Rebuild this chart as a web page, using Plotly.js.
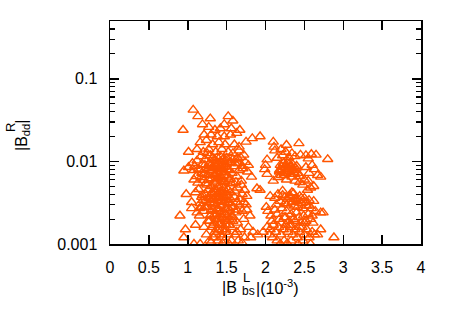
<!DOCTYPE html>
<html>
<head>
<meta charset="utf-8">
<script src="https://cdn.plot.ly/plotly-3.0.1.min.js"></script>
<style>html,body{margin:0;padding:0;background:#fff}#chart{width:450px;height:315px}</style>
</head>
<body>
<div id="chart"></div>
<script>
// |B^L_bs| in units of 1e-3
const bbsL = [
 1.07,1.13,1.29,1.52,1.58,0.94,1.19,1.27,1.35,1.42,1.47,1.56,1.67,1.63,1.21,1.30,1.38,1.47,1.55,1.75,1.83,1.93,
 1.16,1.24,1.32,1.40,1.48,1.60,1.66,1.01,1.12,1.20,1.27,1.36,1.44,1.52,1.58,1.66,1.72,
 0.95,1.01,1.08,1.14,1.18,1.22,1.25,1.28,1.30,1.33,1.35,1.37,1.39,1.41,1.43,1.45,1.47,1.49,1.51,1.53,1.55,1.57,1.60,1.63,1.66,1.70,1.78,1.82,1.69,1.32,1.42,1.50,1.27,1.36,1.44,1.48,1.56,1.62,1.23,1.30,1.39,1.46,1.52,1.35,1.26,1.21,1.11,1.40,1.46,1.34,1.26,
 0.98,1.05,0.90,0.97,0.95,1.10,1.15,1.20,1.23,1.25,1.27,1.29,1.31,1.32,1.34,1.36,1.37,1.38,1.40,1.41,1.42,1.44,1.45,1.46,1.47,1.48,1.49,1.50,1.51,1.52,1.53,1.54,1.55,1.57,1.58,1.60,1.62,1.64,1.66,1.68,1.70,1.72,1.76,1.78,1.81,1.84,
 1.21,1.24,1.28,1.33,1.35,1.39,1.43,1.47,1.52,1.56,1.61,1.65,1.73,1.08,1.16,1.30,1.45,1.53,1.70,1.26,1.31,1.37,1.41,1.49,1.56,1.63,1.30,1.35,1.39,1.43,1.51,1.58,1.63,1.12,1.18,1.28,1.33,1.45,1.55,1.60,1.70,1.38,1.42,
 1.29,1.31,1.34,1.36,1.38,1.40,1.42,1.44,1.46,1.48,1.50,1.53,1.31,1.35,1.39,1.43,1.47,1.51,1.55,1.33,1.37,1.41,1.45,1.49,1.30,1.34,1.38,1.42,1.46,1.50,1.54,1.32,1.36,1.40,1.44,1.48,1.52,1.28,1.33,1.37,1.41,1.45,1.49,1.53,1.57,1.36,1.40,1.44,1.48,1.34,1.38,1.42,1.46,1.50,1.25,1.29,1.58,1.61,1.64,1.22,1.18,1.15,
 1.06,1.09,1.12,1.15,1.17,1.19,1.22,1.24,1.08,1.13,1.17,1.21,1.25,1.10,1.14,1.19,1.23,1.05,1.16,1.20,
 1.62,1.65,1.68,1.71,1.74,1.77,1.64,1.69,1.73,1.67,1.72,1.76,1.80,1.63,1.75,
 2.10,2.11,2.27,2.43,2.12,2.20,2.26,2.34,2.45,2.52,2.59,2.65,2.80,2.02,2.15,2.22,2.30,2.38,2.55,
 2.00,1.99,2.02,2.10,1.93,1.89,2.19,2.22,2.25,2.28,2.30,2.32,2.35,2.37,2.40,2.42,2.24,2.18,2.34,2.44,2.52,2.60,2.63,2.56,2.67,2.71,2.50,2.55,2.48,2.58,2.54,2.62,2.27,2.38,2.16,2.44,
 2.06,2.12,2.16,2.19,2.22,2.25,2.28,2.31,2.34,2.36,2.39,2.41,2.44,2.47,2.50,2.53,2.56,2.59,2.62,2.64,2.71,2.74,2.01,2.03,2.07,2.12,2.15,2.18,2.21,2.24,2.27,2.30,2.33,2.36,2.40,2.43,2.46,2.49,2.52,2.55,2.58,2.61,
 2.02,2.06,2.10,2.13,2.17,2.20,2.23,2.26,2.29,2.32,2.35,2.38,2.41,2.44,2.47,2.50,2.53,2.56,2.60,2.63,2.67,2.71,2.88,2.09,2.15,2.24,2.33,2.42,2.48,2.58,2.19,2.28,1.97,1.90,
 2.18,2.21,2.24,2.27,2.30,2.33,2.36,2.39,2.20,2.26,2.32,2.38,2.23,2.29,2.35,2.22,2.28,2.34,2.40,2.46,2.25,2.31,2.37,2.43,2.20,2.26,2.32,2.38,2.44,2.50,2.14,2.48,2.52,2.56,2.60,2.08,2.05
];
// |B^R_dd|
const bddR = [
 0.042,0.035,0.033,0.035,0.031,0.024,0.028,0.026,0.024,0.025,0.028,0.025,0.024,0.022,0.021,0.021,0.020,0.020,0.021,0.0172,0.019,0.020,
 0.017,0.018,0.016,0.017,0.016,0.016,0.015,0.013,0.014,0.013,0.014,0.013,0.014,0.013,0.0125,0.0135,0.012,
 0.0077,0.0085,0.0078,0.0081,0.0072,0.0090,0.0068,0.0095,0.0078,0.0085,0.0070,0.0100,0.0062,0.0088,0.0075,0.0105,0.0068,0.0092,0.0080,0.0060,0.0098,0.0072,0.0087,0.0066,0.0078,0.0088,0.0090,0.0065,0.0058,0.0110,0.0115,0.0110,0.0060,0.0055,0.0052,0.0057,0.0054,0.0056,0.0054,0.0050,0.0049,0.0047,0.0045,0.0046,0.0045,0.0070,0.0066,0.0082,0.0085,0.0092,0.0082,
 0.0040,0.0032,0.0022,0.0015,0.0012,0.0017,0.0022,0.0034,0.0040,0.0028,0.0036,0.0022,0.0042,0.0030,0.0018,0.0038,0.0026,0.0034,0.0020,0.0042,0.0029,0.0015,0.0036,0.0024,0.0032,0.0019,0.0027,0.0039,0.0022,0.0031,0.0017,0.0026,0.0035,0.0021,0.0028,0.0037,0.0024,0.0018,0.0030,0.0015,0.0025,0.0020,0.0026,0.0016,0.0012,0.0014,
 0.0016,0.0013,0.0011,0.0012,0.0014,0.0011,0.0013,0.0011,0.0013,0.0011,0.0013,0.0011,0.0012,0.0010,0.0010,0.00105,0.00102,0.00100,0.00103,0.0019,0.0016,0.0015,0.0017,0.0015,0.0016,0.0014,0.0025,0.0023,0.0027,0.0024,0.0019,0.0019,0.0032,0.0024,0.0028,0.0032,0.0035,0.0044,0.0042,0.0044,0.0040,0.0040,0.0037,
 0.0088,0.0075,0.0068,0.0090,0.0072,0.0095,0.0066,0.0080,0.0092,0.0074,0.0086,0.0078,0.0062,0.0058,0.0064,0.0060,0.0056,0.0065,0.0061,0.0040,0.0044,0.0038,0.0041,0.0043,0.0034,0.0031,0.0036,0.0033,0.0030,0.0034,0.0032,0.0026,0.0022,0.0025,0.0021,0.0023,0.0027,0.0019,0.0017,0.0020,0.0018,0.0021,0.0017,0.0020,0.0022,0.0013,0.0015,0.0012,0.0014,0.0105,0.0112,0.0100,0.0108,0.0102,0.0125,0.0118,0.0105,0.0095,0.0110,0.0028,0.0037,0.0027,
 0.0095,0.0088,0.0102,0.0078,0.0115,0.0092,0.0105,0.0084,0.0060,0.0055,0.0064,0.0059,0.0052,0.0042,0.0046,0.0039,0.0034,0.0027,0.0031,0.0025,
 0.0105,0.0095,0.0112,0.0082,0.0098,0.0075,0.0048,0.0052,0.0045,0.0035,0.0032,0.0038,0.0022,0.0026,0.0030,
 0.0172,0.0150,0.0158,0.0165,0.0135,0.0140,0.0130,0.0125,0.0120,0.0118,0.0122,0.0120,0.0106,0.0105,0.0110,0.0118,0.0112,0.0115,0.0108,
 0.0090,0.0080,0.0070,0.0058,0.0045,0.0047,0.0090,0.0080,0.0085,0.0075,0.0092,0.0070,0.0082,0.0078,0.0088,0.0072,0.0068,0.0075,0.0065,0.0066,0.0085,0.0090,0.0080,0.0072,0.0068,0.0065,0.0060,0.0058,0.0052,0.0048,0.0045,0.0050,0.0060,0.0058,0.0064,0.0056,
 0.0038,0.0036,0.0040,0.0033,0.0044,0.0037,0.0030,0.0039,0.0032,0.0041,0.0035,0.0028,0.0038,0.0031,0.0036,0.0029,0.0034,0.0027,0.0033,0.0025,0.0024,0.0024,0.0028,0.0025,0.0022,0.0026,0.0023,0.0020,0.0027,0.0021,0.0025,0.0019,0.0023,0.0020,0.0024,0.0021,0.0018,0.0022,0.0019,0.0023,0.0020,0.0018,
 0.0016,0.0015,0.0017,0.0014,0.0016,0.0013,0.0015,0.0017,0.0014,0.0016,0.0013,0.0015,0.0012,0.0014,0.0016,0.0013,0.0015,0.0012,0.0014,0.0013,0.0013,0.0015,0.0012,0.0012,0.0011,0.0011,0.0011,0.0010,0.0011,0.0010,0.00101,0.00102,0.0014,0.0013,
 0.0078,0.0086,0.0072,0.0090,0.0080,0.0085,0.0074,0.0082,0.0068,0.0076,0.0088,0.0070,0.0095,0.0100,0.0092,0.0039,0.0035,0.0042,0.0033,0.0036,0.0031,0.0037,0.0029,0.0034,0.0018,0.0021,0.0017,0.0019,0.0016,0.0018,0.0030,0.0027,0.0032,0.0029,0.0022,0.0019,0.0013
];
const xTickVals = [0,0.5,1,1.5,2,2.5,3,3.5,4];
const xTickText = ['0','0.5','1','1.5','2','2.5','3','3.5','4'];
const yTickVals = [0.001,0.01,0.1];
const yTickText = ['0.001','0.01','0.1'];

const FONT = 'Liberation Sans, Arial, Helvetica, sans-serif';
const trace = {
  x: bbsL, y: bddR, type: 'scatter', mode: 'markers', cliponaxis: true,
  marker: {symbol: 'triangle-up-open', size: 9, color: 'rgb(255,85,0)', line: {width: 1.4, color: 'rgb(255,85,0)'}},
  hoverinfo: 'none'
};
const px = v => (v - 110) / 311;
const py = v => (244 - v) / 223;
const ann = (text, x, y, xa, size, angle) => ({
  xref: 'paper', yref: 'paper', x: px(x), y: py(y), xanchor: xa, yanchor: 'middle',
  text: text, showarrow: false, textangle: angle || 0, borderpad: 0,
  font: {family: FONT, size: size, color: '#000'}
});
const layout = {
  width: 450, height: 315,
  margin: {l: 110, r: 29, t: 21, b: 71},
  paper_bgcolor: '#fff', plot_bgcolor: '#fff',
  showlegend: false,
  font: {family: FONT, size: 16, color: '#000'},
  xaxis: {
    range: [0, 4], tickvals: xTickVals, ticktext: xTickText,
    ticks: 'inside', ticklen: 9, tickwidth: 1.5, tickcolor: '#000',
    showline: true, linewidth: 1.5, linecolor: '#000', mirror: 'allticks',
    showgrid: false, zeroline: false, ticklabelstandoff: 8,
    tickfont: {family: FONT, size: 16, color: '#000'}
  },
  yaxis: {
    type: 'log', range: [-3, Math.log10(0.5)],
    tickvals: yTickVals, ticktext: yTickText,
    ticks: 'inside', ticklen: 9, tickwidth: 1.5, tickcolor: '#000',
    showline: true, linewidth: 1.5, linecolor: '#000', mirror: 'allticks',
    showgrid: false, zeroline: false, ticklabelstandoff: 8,
    tickfont: {family: FONT, size: 16, color: '#000'},
    minor: {ticks: 'inside', ticklen: 5, tickwidth: 1.2, tickcolor: '#000', dtick: 'D1', showgrid: false}
  },
  annotations: [
    ann('|B', 238, 287, 'right', 16),
    ann('L', 242, 277, 'left', 13),
    ann('bs', 241, 291, 'left', 12),
    ann('|(10<sup>-3</sup>)', 255, 287, 'left', 16),
    ann('|B<sub>dd</sub>|', 22, 136, 'center', 16, -90),
    ann('R', 10, 128, 'center', 13, -90)
  ]
};
Plotly.newPlot('chart', [trace], layout, {staticPlot: true, displayModeBar: false});
</script>
</body>
</html>
